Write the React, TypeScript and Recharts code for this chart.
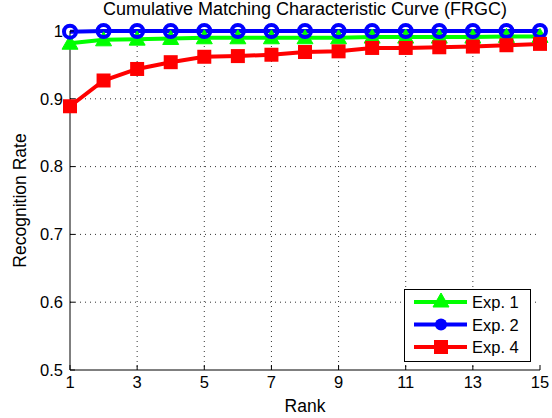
import React from "react";
import {
  CartesianGrid,
  Label,
  Line,
  LineChart,
  XAxis,
  YAxis,
} from "recharts";

const ranks = [1, 2, 3, 4, 5, 6, 7, 8, 9, 10, 11, 12, 13, 14, 15];
const exp1 = [0.982, 0.987, 0.988, 0.989, 0.99, 0.99, 0.99, 0.99, 0.99, 0.991, 0.991, 0.991, 0.991, 0.992, 0.992];
const exp2 = [0.999, 1, 1, 1, 1, 1, 1, 1, 1, 1, 1, 1, 1, 1, 1];
const exp4 = [0.889, 0.927, 0.944, 0.954, 0.962, 0.963, 0.965, 0.969, 0.97, 0.975, 0.975, 0.976, 0.977, 0.979, 0.981];
const xTicks = [1, 3, 5, 7, 9, 11, 13, 15];
const yTicks = [0.5, 0.6, 0.7, 0.8, 0.9, 1];

const data = ranks.map((r, i) => ({ rank: r, exp1: exp1[i], exp2: exp2[i], exp4: exp4[i] }));

const FONT = "'Liberation Sans', Arial, Helvetica, sans-serif";

const Triangle = (props: any) => {
  const { cx, cy } = props;
  if (cx == null || cy == null) return null;
  return <path d={`M${cx},${cy - 8} L${cx + 8},${cy + 6} L${cx - 8},${cy + 6} Z`} fill="#00ff00" stroke="#00ff00" strokeWidth={1} />;
};

const Circle = (props: any) => {
  const { cx, cy } = props;
  if (cx == null || cy == null) return null;
  return <circle cx={cx} cy={cy} r={6} fill="none" stroke="#0000ff" strokeWidth={4} />;
};

const Square = (props: any) => {
  const { cx, cy } = props;
  if (cx == null || cy == null) return null;
  return <rect x={cx - 7} y={cy - 7} width={14} height={14} fill="#ff0000" />;
};

const blankTick = () => <g />;

function LegendBox() {
  const rows = [
    { name: "Exp. 1", color: "#00ff00", marker: "tri" },
    { name: "Exp. 2", color: "#0000ff", marker: "circ" },
    { name: "Exp. 4", color: "#ff0000", marker: "sq" },
  ];
  return (
    <svg
      width={127}
      height={73}
      style={{ position: "absolute", left: 404, top: 289, background: "#fff" }}
    >
      <rect x={0.5} y={0.5} width={126} height={72} fill="#fff" stroke="#000" />
      {rows.map((r, i) => {
        const y = 13 + i * 22.5;
        return (
          <g key={r.name}>
            <line x1={10} x2={63} y1={y} y2={y} stroke={r.color} strokeWidth={4} />
            {r.marker === "tri" && <Triangle cx={37} cy={y - 1} />}
            {r.marker === "circ" && <circle cx={37} cy={y} r={6} fill={r.color} />}
            {r.marker === "sq" && <rect x={30} y={y - 7} width={14} height={14} fill={r.color} />}
            <text x={68} y={y + 6} fontSize={16.5} fontFamily={FONT} fill="#000">
              {r.name}
            </text>
          </g>
        );
      })}
    </svg>
  );
}

export default function App() {
  return (
    <div style={{ position: "absolute", left: 0, top: 0, width: 552, height: 418, background: "#fff", fontFamily: FONT }}>
      <div
        style={{
          position: "absolute",
          left: 40,
          width: 530,
          top: -1,
          textAlign: "center",
          fontSize: 18,
          lineHeight: "20px",
          color: "#000",
        }}
      >
        Cumulative Matching Characteristic Curve (FRGC)
      </div>
      <LineChart
        width={552}
        height={418}
        data={data}
        margin={{ top: 31, right: 12, left: 0, bottom: 0 }}
      >
        <CartesianGrid
          stroke="#333"
          strokeDasharray="1 4"
          horizontalValues={[0.6, 0.7, 0.8, 0.9]}
          verticalValues={[3, 5, 7, 9, 11, 13]}
        />
        <XAxis
          dataKey="rank"
          type="number"
          domain={[1, 15]}
          ticks={xTicks}
          height={48}
          interval={0}
          stroke="#000"
          tickSize={-5}
          tickMargin={11}
          tick={{ fill: "#000", fontSize: 16.5, fontFamily: FONT }}
        >
          <Label value="Rank" position="insideBottom" offset={6} fill="#000" fontSize={17.5} fontFamily={FONT} />
        </XAxis>
        <XAxis
          xAxisId="top"
          dataKey="rank"
          type="number"
          orientation="top"
          domain={[1, 15]}
          ticks={xTicks}
          height={0}
          mirror
          stroke="#000"
          tickSize={5}
          tick={blankTick}
        />
        <YAxis
          type="number"
          domain={[0.5, 1]}
          ticks={yTicks}
          width={70}
          interval={0}
          stroke="#000"
          tickSize={-5}
          tickMargin={12}
          tickFormatter={(v: number) => (v === 1 ? "1" : v.toFixed(1))}
          tick={{ fill: "#000", fontSize: 16.5, fontFamily: FONT }}
        >
          <Label
            value="Recognition Rate"
            angle={-90}
            position="insideLeft"
            offset={20}
            style={{ textAnchor: "middle" }}
            fill="#000"
            fontSize={17.5}
            fontFamily={FONT}
          />
        </YAxis>
        <YAxis
          yAxisId="right"
          type="number"
          orientation="right"
          domain={[0.5, 1]}
          ticks={yTicks}
          width={0}
          mirror
          stroke="#000"
          tickSize={5}
          tick={blankTick}
        />
        <Line
          dataKey="exp1"
          stroke="#00ff00"
          strokeWidth={4}
          dot={<Triangle />}
          activeDot={false}
          isAnimationActive={false}
        />
        <Line
          dataKey="exp2"
          stroke="#0000ff"
          strokeWidth={4}
          dot={<Circle />}
          activeDot={false}
          isAnimationActive={false}
        />
        <Line
          dataKey="exp4"
          stroke="#ff0000"
          strokeWidth={4}
          dot={<Square />}
          activeDot={false}
          isAnimationActive={false}
        />
      </LineChart>
      <LegendBox />
    </div>
  );
}
